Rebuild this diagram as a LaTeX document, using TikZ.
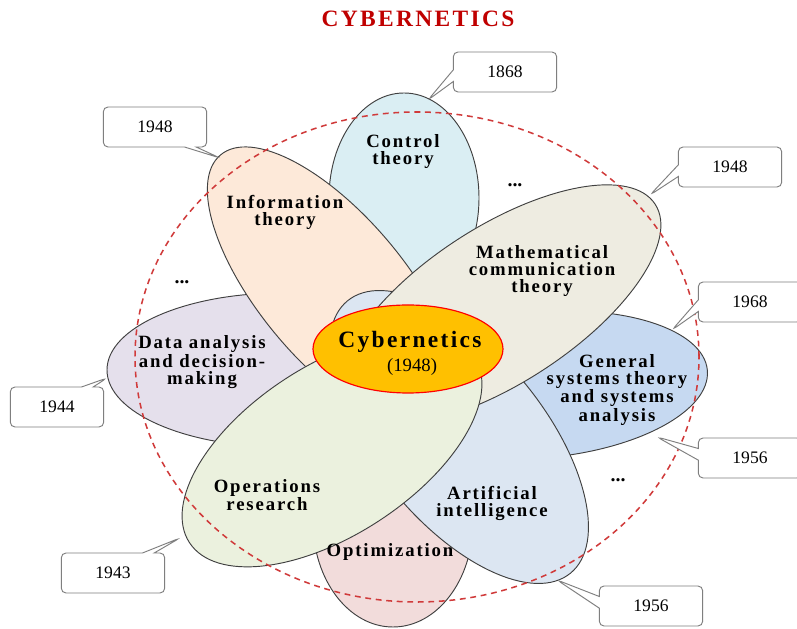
\documentclass[tikz,border=0pt]{standalone}
\usepackage{fontspec}
\setmainfont{Liberation Serif}
\newfontfamily\lblfont[LetterSpace=10]{Liberation Serif}
\usepackage{xcolor}
\definecolor{CtrlBlue}{HTML}{DAEEF3}
\definecolor{InfoPeach}{HTML}{FDE9D9}
\definecolor{MathBeige}{HTML}{EEECE1}
\definecolor{DataLilac}{HTML}{E5E0EC}
\definecolor{SysBlue}{HTML}{C6D9F1}
\definecolor{AIBlue}{HTML}{DCE6F2}
\definecolor{OptPink}{HTML}{F2DCDB}
\definecolor{OpsGreen}{HTML}{EBF1DE}
\definecolor{CyberOrange}{HTML}{FFC000}
\definecolor{CyberRed}{HTML}{C00000}
\definecolor{RingRed}{HTML}{D03A3A}
\definecolor{BoxGray}{HTML}{7F7F7F}
\usetikzlibrary{shapes, positioning, calc}

\begin{document}
\begin{tikzpicture}[
  x=0.03cm, y=0.03cm,
  % Grundstile
  petal/.style={
    draw=black!75,
    line width=0.8pt,
    fill=#1
  },
  lbl/.style={
    font=\lblfont\bfseries\fontsize{16}{14.5}\selectfont,
    align=center,
    inner sep=1pt
  },
  etc/.style={
    font=\bfseries\fontsize{17}{17}\selectfont
  },
  yearbox/.style={
    rectangle callout,
    draw=BoxGray,
    line width=0.8pt,
    fill=white,
    rounded corners=4pt,
    minimum width=#1,
    minimum height=1.2cm,
    callout pointer width=0.35cm,
    font=\fontsize{15}{15}\selectfont
  },
  yearbox/.default=3.1cm
]

% =============================================================================
% HINTERGRUND
% =============================================================================
\useasboundingbox (0,0) rectangle (797,629);
\fill[white] (0,0) rectangle (797,629);

\node[font=\lblfont\bfseries\fontsize{20}{20}\selectfont, text=CyberRed] (title) at (418,610) {CYBERNETICS};

% =============================================================================
% BLUETENBLAETTER (von unten nach oben)
% =============================================================================
\foreach \cx/\cy/\a/\b/\ang/\col in {
    282/259/175/77/0/DataLilac,
    404/431/75/105/0/CtrlBlue,
    393/107/80/105/0/OptPink,
    540/244/168/73/5/SysBlue,
    333/340/175/73/-50/InfoPeach,
    459/192/176/85/-50.7/AIBlue,
    500/324/185/78/33/MathBeige,
    332/179/170/85/33/OpsGreen} {
  \draw[petal=\col, rotate around={\ang:(\cx,\cy)}] (\cx,\cy) ellipse [x radius=\a, y radius=\b];
}

% Gestrichelter Ring
\draw[RingRed, line width=1.3pt, dash pattern=on 5pt off 4pt] (417,272) ellipse [x radius=282, y radius=245];

% Kern
\draw[fill=CyberOrange, draw=red, line width=1pt] (408,280) ellipse [x radius=95, y radius=44];
\node[font=\lblfont\bfseries\fontsize{20}{20}\selectfont, anchor=base] (cybName) at (410,281) {Cybernetics};
\node[font=\fontsize{16}{16}\selectfont, anchor=base] (cybYear) at (412,257) {(1948)};

% =============================================================================
% BESCHRIFTUNGEN
% =============================================================================
\node[lbl] (lblCT) at (403,477) {Control\\theory};
\node[lbl] (lblIT) at (285,417) {Information\\theory};
\node[lbl] (lblMC) at (542,358) {Mathematical\\communication\\theory};
\node[lbl] (lblDA) at (202,267) {Data analysis\\and decision-\\making};
\node[lbl] (lblGS) at (617,239) {General\\systems theory\\and systems\\analysis};
\node[lbl] (lblAI) at (492,126) {Artificial\\intelligence};
\node[lbl] (lblOP) at (390,77) {Optimization};
\node[lbl] (lblOR) at (267,134) {Operations\\research};

\node[etc] (etc1) at (182,347) {...};
\node[etc] (etc2) at (515,444) {...};
\node[etc] (etc3) at (618,149) {...};

% =============================================================================
% JAHRESZAHLEN
% =============================================================================
\coordinate (pCT) at (428,529);
\coordinate (pIT) at (220,471);
\coordinate (pMC) at (650,434);
\coordinate (pGSa) at (672,299);
\coordinate (pGSb) at (657,192);
\coordinate (pAI) at (557,49);
\coordinate (pOR) at (180,91);
\coordinate (pDA) at (107,251);

\node[yearbox, callout absolute pointer={(pCT)}] (y1868) at (505,557) {1868};
\node[yearbox, callout absolute pointer={(pIT)}] (y1948a) at (155,502) {1948};
\node[yearbox, callout absolute pointer={(pMC)}] (y1948b) at (730,462) {1948};
\node[yearbox, callout absolute pointer={(pGSa)}] (y1968) at (750,327) {1968};
\node[yearbox, callout absolute pointer={(pGSb)}] (y1956a) at (750,171) {1956};
\node[yearbox, callout absolute pointer={(pAI)}] (y1956b) at (651,23) {1956};
\node[yearbox, callout absolute pointer={(pOR)}] (y1943) at (113,56) {1943};
\node[yearbox=2.8cm, callout absolute pointer={(pDA)}] (y1944) at (57,222) {1944};

\end{tikzpicture}
\end{document}
